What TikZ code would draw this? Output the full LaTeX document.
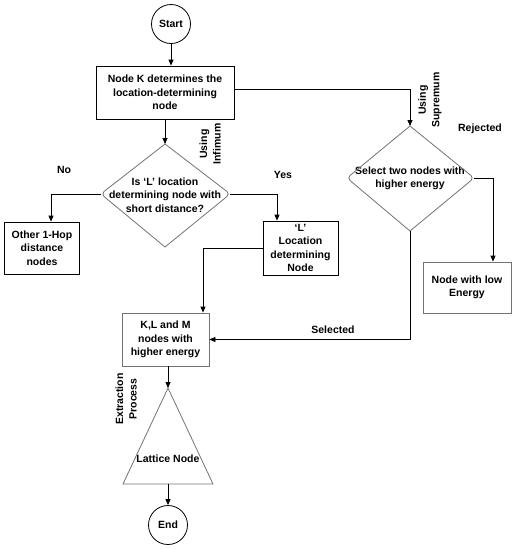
\documentclass[tikz,border=0pt]{standalone}
\usepackage{fontspec}
\setmainfont{Liberation Sans}
\usetikzlibrary{arrows.meta,positioning}
\begin{document}
\begin{tikzpicture}[x=1pt,y=-1pt,
  every node/.style={font=\bfseries\fontsize{10.5}{13.5}\selectfont, align=center, inner sep=0pt},
  blackbox/.style={draw=black, line width=0.8pt, minimum width=#1},
  graybox/.style={draw=black!55, line width=0.8pt},
  term/.style={draw=black, line width=0.8pt, circle, minimum size=39pt},
  grayline/.style={draw=black!55, line width=0.8pt},
  conn/.style={draw=black, line width=0.8pt},
  arr/.style={conn, -{Triangle[length=6pt,width=5pt]}},
  lbl/.style={}
]
\useasboundingbox (0,0) rectangle (515,550);

% nodes
\node[term] (start) at (171,24) {Start};
\node[draw=black, line width=0.8pt, minimum width=138pt, minimum height=53pt] (boxK) at (165,92.5) {Node K determines the\\location-determining\\node};

\node (d1) at (165,195) {Is ‘L’ location\\determining node with\\short distance?};
\coordinate (d1n) at (165,144);
\coordinate (d1e) at (230,194);
\coordinate (d1s) at (165,247);
\coordinate (d1w) at (101,194);

\node (d2) at (410,178.5) {Select two nodes with\\higher energy};
\coordinate (d2n) at (410,126);
\coordinate (d2e) at (474,178);
\coordinate (d2s) at (410,231);
\coordinate (d2w) at (347,178);

\node[draw=black, line width=0.8pt, minimum width=75pt, minimum height=52pt] (other) at (42,248) {Other 1-Hop\\distance\\nodes};
\node[draw=black, line width=0.8pt, minimum width=75pt, minimum height=54pt] (lbox) at (300.5,248) {‘L’\\Location\\determining\\Node};
\node[graybox, minimum width=87pt, minimum height=53pt] (klm) at (165.5,339.5) {K,L and M\\nodes with\\higher energy};
\node[graybox, minimum width=88pt, minimum height=51pt] (low) at (467,287.5) {Node with low\\Energy};

\node (lat) at (168,459) {Lattice Node};
\coordinate (tapex) at (168,388);
\coordinate (tbl) at (123,484);
\coordinate (tbr) at (213,484);
\coordinate (tbase) at (168,484);

\node[term] (end) at (168,525) {End};

% shapes
\draw[grayline] (d1n) -- ([xshift=-3pt,yshift=2.5pt]d1e) to[out=-40,in=40] ([xshift=-3pt,yshift=-2.5pt]d1e) -- (d1s) -- ([xshift=3pt,yshift=-2.5pt]d1w) to[out=140,in=-140] ([xshift=3pt,yshift=2.5pt]d1w) -- cycle;
\draw[grayline] (d2n) -- ([xshift=-3pt,yshift=2.5pt]d2e) to[out=-40,in=40] ([xshift=-3pt,yshift=-2.5pt]d2e) -- (d2s) -- ([xshift=3pt,yshift=-2.5pt]d2w) to[out=140,in=-140] ([xshift=3pt,yshift=2.5pt]d2w) -- cycle;
\draw[grayline] (tapex) -- (tbr) -- (tbl) -- cycle;

% labels
\node[rotate=90] (lsup) at (430,100) {Using\\Supremum};
\node[rotate=90] (linf) at (210,144) {Using\\Infimum};
\node[rotate=90] (lext) at (126,399) {Extraction\\Process};
\node (lrej) at (480,129) {Rejected};
\node (lno) at (64,170) {No};
\node (lyes) at (283,175) {Yes};
\node (lsel) at (333,330) {Selected};

% connectors
\draw[arr] (start.south) -- (start.south |- boxK.north);
\draw[arr] (boxK.south) -- (d1n);
\draw[arr] ([yshift=3.5pt]boxK.east) -| (d2n);
\draw[arr] (d1w) -| ([xshift=9pt]other.north);
\draw[arr] (d1e) -| ([xshift=-23.5pt]lbox.north);
\draw[arr] (lbox.west) -| ([xshift=37.5pt]klm.north);
\draw[arr] (d2e) -| ([xshift=26pt]low.north);
\draw[arr] (d2s) |- (klm.east);
\draw[arr] ([xshift=2.5pt]klm.south) -- (tapex);
\draw[arr] (tbase) -- (end.north);
\end{tikzpicture}
\end{document}
